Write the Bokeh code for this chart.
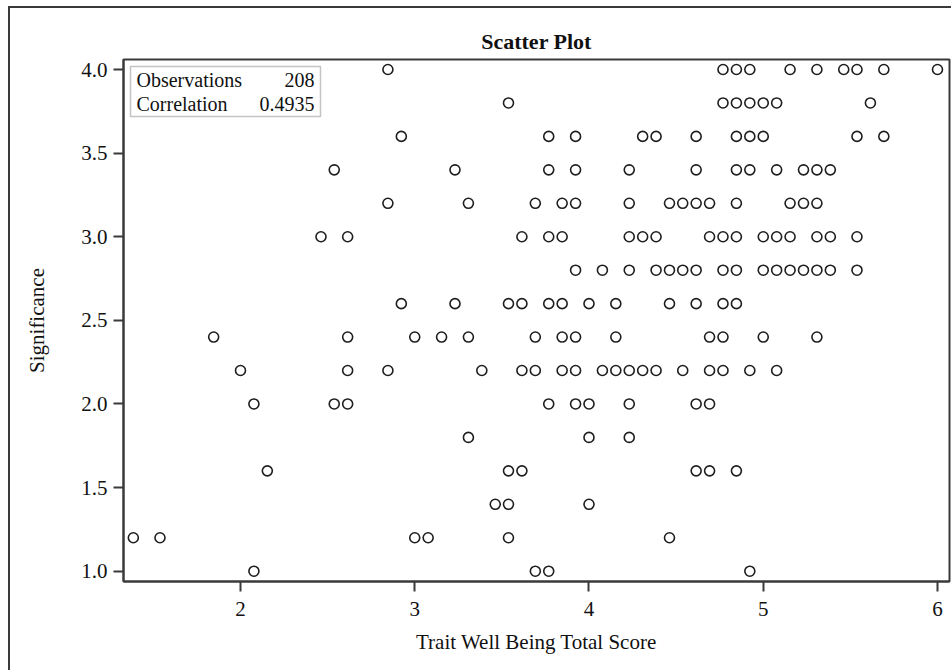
from bokeh.plotting import figure
from bokeh.models import (ColumnDataSource, FixedTicker, BoxAnnotation, Label, NumeralTickFormatter,
                          InlineStyleSheet)
from bokeh.embed import file_html
from bokeh.resources import INLINE

# ---------------- data ----------------
title_text = "Scatter Plot"
x_label = "Trait Well Being Total Score"
y_label = "Significance"
n_obs = 208
correlation = 0.4935
x_ticks = [2, 3, 4, 5, 6]
y_ticks = [1.0, 1.5, 2.0, 2.5, 3.0, 3.5, 4.0]

# x values of the points on each significance level
x_at_4_0 = [2.846, 4.769, 4.846, 4.923, 5.154, 5.308, 5.462, 5.538, 5.692, 6.000]
x_at_3_8 = [3.538, 4.769, 4.846, 4.923, 5.000, 5.077, 5.615]
x_at_3_6 = [2.923, 3.769, 3.923, 4.308, 4.385, 4.615, 4.846, 4.923, 5.000, 5.538, 5.692]
x_at_3_4 = [2.538, 3.231, 3.769, 3.923, 4.231, 4.615, 4.846, 4.923, 5.077, 5.231, 5.308, 5.385]
x_at_3_2 = [2.846, 3.308, 3.692, 3.846, 3.923, 4.231, 4.462, 4.538, 4.615, 4.692, 4.846, 5.154, 5.231, 5.308]
x_at_3_0 = [2.462, 2.615, 3.615, 3.769, 3.846, 4.231, 4.308, 4.385, 4.692, 4.769, 4.846, 5.000, 5.077,
            5.154, 5.308, 5.385, 5.538]
x_at_2_8 = [3.923, 4.077, 4.231, 4.385, 4.462, 4.538, 4.615, 4.769, 4.846, 5.000, 5.077, 5.154, 5.231,
            5.308, 5.385, 5.538]
x_at_2_6 = [2.923, 3.231, 3.538, 3.615, 3.769, 3.846, 4.000, 4.154, 4.462, 4.615, 4.769, 4.846]
x_at_2_4 = [1.846, 2.615, 3.000, 3.154, 3.308, 3.692, 3.846, 3.923, 4.154, 4.692, 4.769, 5.000, 5.308]
x_at_2_2 = [2.000, 2.615, 2.846, 3.385, 3.615, 3.692, 3.846, 3.923, 4.077, 4.154, 4.231, 4.308, 4.385,
            4.538, 4.692, 4.769, 4.923, 5.077]
x_at_2_0 = [2.077, 2.538, 2.615, 3.769, 3.923, 4.000, 4.231, 4.615, 4.692]
x_at_1_8 = [3.308, 4.000, 4.231]
x_at_1_6 = [2.154, 3.538, 3.615, 4.615, 4.692, 4.846]
x_at_1_4 = [3.462, 3.538, 4.000]
x_at_1_2 = [1.385, 1.538, 3.000, 3.077, 3.538, 4.462]
x_at_1_0 = [2.077, 3.692, 3.769, 4.923]

levels = [4.0, 3.8, 3.6, 3.4, 3.2, 3.0, 2.8, 2.6, 2.4, 2.2, 2.0, 1.8, 1.6, 1.4, 1.2, 1.0]
rows = [x_at_4_0, x_at_3_8, x_at_3_6, x_at_3_4, x_at_3_2, x_at_3_0, x_at_2_8, x_at_2_6,
        x_at_2_4, x_at_2_2, x_at_2_0, x_at_1_8, x_at_1_6, x_at_1_4, x_at_1_2, x_at_1_0]

xs, ys = [], []
for lvl, row in zip(levels, rows):
    xs.extend(row)
    ys.extend([lvl] * len(row))
src = ColumnDataSource(dict(x=xs, y=ys))

# ---------------- layout ----------------
FONT = "Liberation Serif"
INK = "#1e1e1e"
FRAME = "#3a3a3a"

X0, X1 = 1.3286, 6.0689
Y0, Y1 = 0.9384, 4.0598
PPU_X = 174.25     # pixels per x unit
PPU_Y = 167.2      # pixels per y unit
FRAME_L = 123
FRAME_T = 59


def px2x(px):
    return X0 + (px - FRAME_L) / PPU_X


def py2y(py):
    return Y1 - (py - FRAME_T) / PPU_Y


p = figure(width=951, height=670, output_backend="svg", toolbar_location=None,
           x_range=(X0, X1), y_range=(Y0, Y1),
           min_border_left=123, min_border_right=2, min_border_top=59, min_border_bottom=89,
           title=title_text)

# outer graph border: only its top and left edges fall inside the picture
p.stylesheets = [InlineStyleSheet(css="""
:host { position: relative; }
:host::after {
  content: "";
  position: absolute;
  left: 8px; top: 6px; right: 0; bottom: 0;
  border-top: 2px solid #3a3a3a;
  border-left: 2px solid #3a3a3a;
  pointer-events: none;
  z-index: 10;
}
""")]

p.title.align = "center"
p.title.text_font = FONT
p.title.text_font_style = "bold"
p.title.text_font_size = "22px"
p.title.text_color = "#111111"
p.title.standoff = 12

p.scatter("x", "y", source=src, marker="circle", size=10, fill_color=None,
          line_color=INK, line_width=1.6)

p.xgrid.visible = False
p.ygrid.visible = False
p.outline_line_color = FRAME
p.outline_line_width = 2
p.background_fill_color = "white"
p.border_fill_color = "white"

for ax in (p.xaxis[0], p.yaxis[0]):
    ax.axis_line_color = FRAME
    ax.axis_line_width = 2
    ax.major_tick_line_color = FRAME
    ax.major_tick_line_width = 2
    ax.major_tick_out = 10
    ax.major_tick_in = 0
    ax.minor_tick_line_color = None
    ax.major_label_text_font = FONT
    ax.major_label_text_font_size = "21px"
    ax.major_label_text_color = "#111111"
    ax.axis_label_text_font = FONT
    ax.axis_label_text_font_size = "21px"
    ax.axis_label_text_font_style = "normal"
    ax.axis_label_text_color = "#111111"

p.xaxis.ticker = FixedTicker(ticks=x_ticks)
p.yaxis.ticker = FixedTicker(ticks=y_ticks)
p.xaxis.formatter = NumeralTickFormatter(format="0")
p.yaxis.formatter = NumeralTickFormatter(format="0.0")
p.xaxis.axis_label = x_label
p.yaxis.axis_label = y_label
p.xaxis.major_label_standoff = 10
p.xaxis.axis_label_standoff = 11
p.yaxis.major_label_standoff = 6
p.yaxis.axis_label_standoff = 29

# statistics inset box
p.add_layout(BoxAnnotation(left=px2x(130), right=px2x(320), top=py2y(66), bottom=py2y(116),
                           fill_alpha=0, line_color=FRAME, line_width=1.5))
stats = [("Observations", f"{n_obs}", 79), ("Correlation", f"{correlation:.4f}", 103)]
for name, val, py in stats:
    p.add_layout(Label(x=px2x(136), y=py2y(py), text=name, text_font=FONT, text_font_size="20px",
                       text_align="left", text_baseline="middle", text_color="#111111"))
    p.add_layout(Label(x=px2x(314), y=py2y(py), text=val, text_font=FONT, text_font_size="20px",
                       text_align="right", text_baseline="middle", text_color="#111111"))

open("out.html", "w").write(file_html(p, INLINE))
